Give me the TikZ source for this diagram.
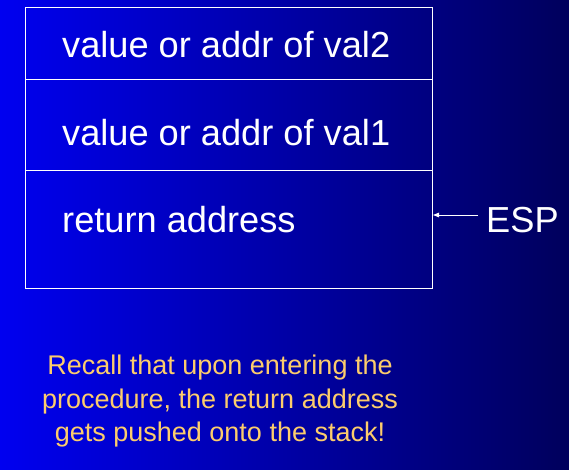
\documentclass[tikz,border=0pt]{standalone}
\usepackage{fontspec}
\setmainfont{Liberation Sans}
\usetikzlibrary{arrows.meta}
\definecolor{bgleft}{RGB}{0,0,240}
\definecolor{bgmid}{RGB}{0,0,190}
\definecolor{bgright}{RGB}{0,0,92}
\definecolor{note}{RGB}{252,204,108}
\begin{document}
\begin{tikzpicture}[x=1pt,y=-1pt,
  cell/.style={draw=white,line width=1pt,minimum width=407pt,inner sep=0pt,anchor=north west},
  celltext/.style={text=white,font=\fontsize{36.2}{42}\selectfont,anchor=base west,inner sep=0pt},
  arr/.style={draw=white,line width=0.9pt,-{Triangle[length=6pt,width=4.5pt]}},
  remark/.style={text=note,font=\fontsize{27}{33.5}\selectfont,align=center,inner sep=0pt}]
  % background
  \path[left color=bgleft,middle color=bgmid,right color=bgright] (0,0) rectangle (569,469);
  \useasboundingbox (0,0) rectangle (569,469);
  % stack cells
  \node[cell,minimum height=72pt] (c2) at (25,7) {};
  \node[cell,minimum height=91pt] (c1) at (25,79) {};
  \node[cell,minimum height=118pt] (ra) at (25,170) {};
  \node[celltext] (t2) at (62,57) {value or addr of val2};
  \node[celltext] (t1) at (62,145) {value or addr of val1};
  \node[celltext] (t0) at (62,232) {return address};
  % stack pointer
  \node[celltext] (esp) at (486,232) {ESP};
  \coordinate (tip) at (ra.east |- 0,215);
  \draw[arr] ([xshift=-8pt]esp.west |- tip) -- (tip);
  % note
  \node[remark,anchor=north] (note) at (220,355) {Recall that upon entering the\\procedure, the return address\\gets pushed onto the stack!};
\end{tikzpicture}
\end{document}
